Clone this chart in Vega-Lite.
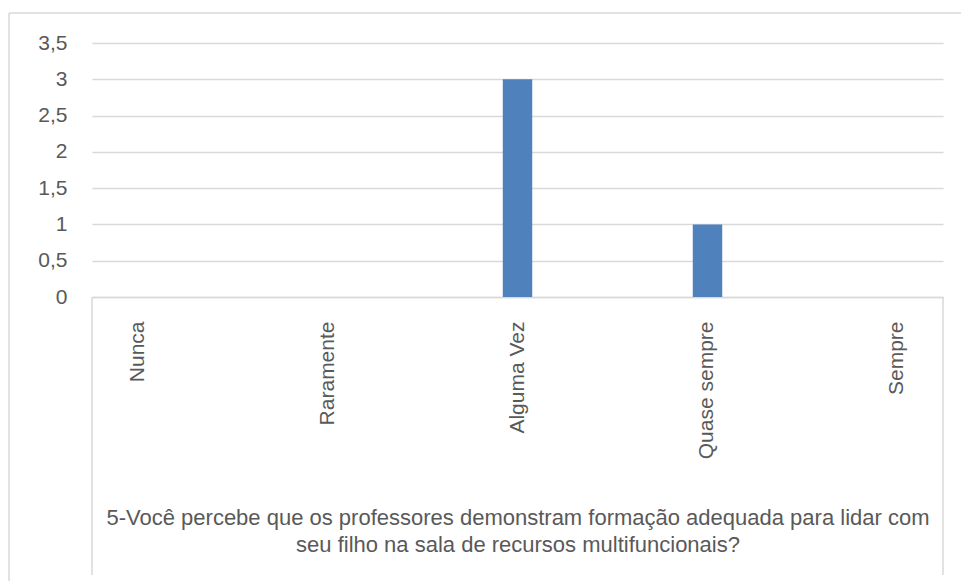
{
  "$schema": "https://vega.github.io/schema/vega-lite/v6.json",
  "autosize": "none",
  "width": 851,
  "height": 254,
  "padding": {"left": 92, "top": 43, "right": 18, "bottom": 284},
  "background": "white",
  "config": {
    "view": {"stroke": null},
    "font": "Liberation Sans",
    "axisY": {
      "title": null,
      "values": [0, 0.5, 1, 1.5, 2, 2.5, 3, 3.5],
      "format": "~g",
      "labelExpr": "replace(datum.label, '.', ',')",
      "labelFontSize": 21,
      "labelColor": "#595959",
      "labelPadding": 25,
      "ticks": false,
      "domain": false,
      "grid": true,
      "gridColor": "#D9D9D9",
      "gridWidth": 1.4
    }
  },
  "datasets": {
    "answers": [
      {"categoria": "Nunca", "valor": 0},
      {"categoria": "Raramente", "valor": 0},
      {"categoria": "Alguma Vez", "valor": 3},
      {"categoria": "Quase sempre", "valor": 1},
      {"categoria": "Sempre", "valor": 0}
    ],
    "frame": [
      {"part": "inner-left", "x": 0, "x2": 0, "y": 0, "y2": -3.83},
      {"part": "inner-right", "x": 1, "x2": 1, "y": 0, "y2": -3.83},
      {"part": "outer-left", "x": -0.0975, "x2": -0.0975, "y": 3.913, "y2": -3.95},
      {"part": "outer-top", "x": -0.0975, "x2": 1.03, "y": 3.913, "y2": 3.913}
    ]
  },
  "layer": [
    {
      "data": {"name": "answers"},
      "mark": {"type": "bar", "color": "#4F81BD"},
      "encoding": {
        "x": {
          "field": "categoria",
          "type": "nominal",
          "sort": ["Nunca", "Raramente", "Alguma Vez", "Quase sempre", "Sempre"],
          "scale": {"paddingInner": 0.845, "paddingOuter": 0.162},
          "axis": {
            "title": ["5-Você percebe que os professores demonstram formação adequada para lidar com", "seu filho na sala de recursos multifuncionais?"],
            "titleFont": "Liberation Sans",
            "titleFontSize": 22,
            "titleFontWeight": "normal",
            "titleColor": "#595959",
            "titleBaseline": "top",
            "titleY": 210,
            "titleLineHeight": 27,
            "labelAngle": -90,
            "labelAlign": "right",
            "labelBaseline": "middle",
            "labelFontSize": 21,
            "labelColor": "#595959",
            "labelPadding": 24,
            "ticks": false,
            "domainColor": "#D9D9D9",
            "domainWidth": 1.5,
            "grid": false
          }
        },
        "y": {
          "field": "valor",
          "type": "quantitative",
          "title": null,
          "scale": {"domain": [0, 3.5], "nice": false}
        }
      }
    },
    {
      "data": {"name": "frame"},
      "mark": {"type": "rule", "color": "#D9D9D9", "strokeWidth": 1.5, "clip": false},
      "encoding": {
        "x": {"field": "x", "type": "quantitative", "scale": {"domain": [0, 1], "nice": false, "zero": false}, "axis": null},
        "x2": {"field": "x2"},
        "y": {"field": "y", "type": "quantitative", "title": null, "scale": {"domain": [0, 3.5], "nice": false}},
        "y2": {"field": "y2"}
      }
    }
  ],
  "resolve": {"scale": {"x": "independent"}}
}
